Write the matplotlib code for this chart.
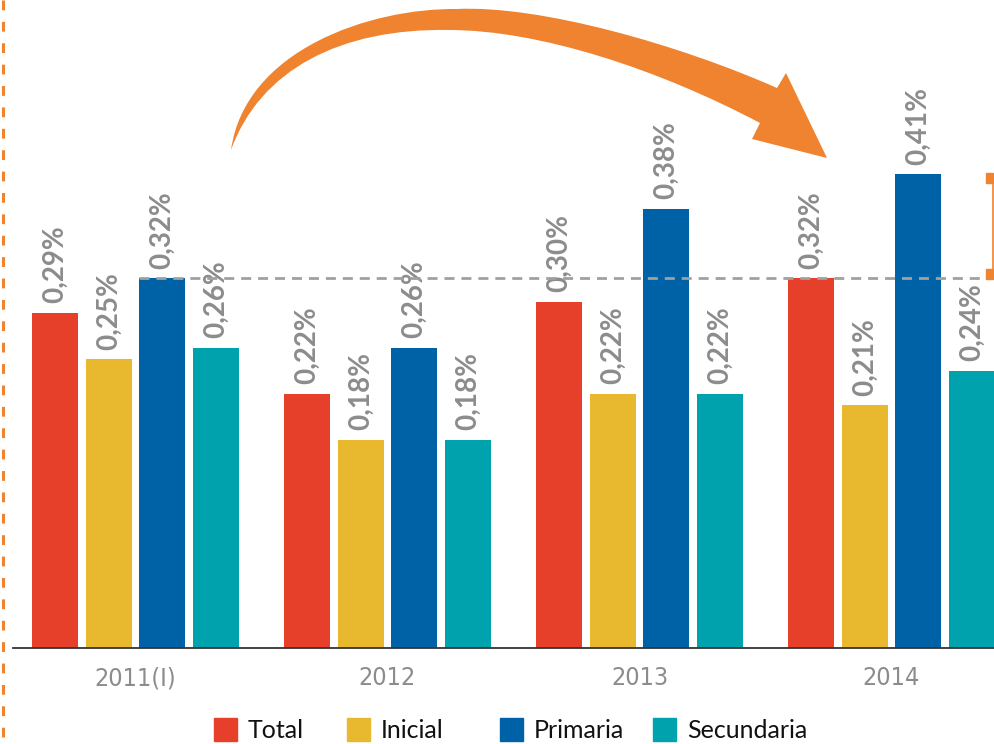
import numpy as np
import matplotlib
matplotlib.use('Agg')
import matplotlib.pyplot as plt
from matplotlib.path import Path
from matplotlib.patches import PathPatch, Rectangle

years = ['2011(I)', '2012', '2013', '2014']
series = ['Total', 'Inicial', 'Primaria', 'Secundaria']
total = [0.29, 0.22, 0.30, 0.32]
inicial = [0.25, 0.18, 0.22, 0.21]
primaria = [0.32, 0.26, 0.38, 0.41]
secundaria = [0.26, 0.18, 0.22, 0.24]
colors = ['#E63F2A', '#E8B92F', '#0062A6', '#00A2AE']

orange = '#F0832F'
gray = '#8C8C8C'

W, H = 994, 744
fig = plt.figure(figsize=(W / 100, H / 100), dpi=100)
ax = fig.add_axes([13 / W, 96 / H, 981 / W, 648 / H])

x = np.arange(len(years))
step = 0.2123
width = 0.1825
for i, (name, vals) in enumerate(zip(series, [total, inicial, primaria, secundaria])):
    pos = x + (i - 1.5) * step
    ax.bar(pos, vals, width, color=colors[i], label=name, zorder=2, clip_on=False)
    for px, v in zip(pos, vals):
        ax.annotate(f'{v:.2f}%'.replace('.', ','), (px, v), xytext=(0, 7),
                    textcoords='offset points', rotation=90, ha='center', va='bottom',
                    fontsize=20, fontweight='bold', family=['Lato', 'DejaVu Sans'],
                    color=gray, zorder=2)

# reference line at 2011 Primaria level
x0 = 0 + 0.5 * step - width / 2
ax.hlines(primaria[0], x0, 3.45, colors='#A0A0A0', linewidth=2.0,
          linestyles=(0, (3.6, 2.5)), zorder=3, clip_on=False)

ax.set_xlim(-0.486, 3.407)
ax.set_ylim(0, 648 / 1155)
ax.set_xticks(x)
ax.set_xticklabels(years, fontsize=18, color=gray, fontstretch='condensed',
                   family=['DejaVu Sans'])
ax.tick_params(axis='x', length=0, pad=13)
ax.set_yticks([])
for s in ['top', 'left', 'right']:
    ax.spines[s].set_visible(False)
ax.spines['bottom'].set_color('#333333')
ax.spines['bottom'].set_linewidth(1.3)
ax.patch.set_alpha(0)

# overlay in pixel coordinates for decorations
ov = fig.add_axes([0, 0, 1, 1])
ov.set_xlim(0, W)
ov.set_ylim(H, 0)
ov.axis('off')
ov.patch.set_alpha(0)

ov.plot([3, 3], [0, H], color=orange, linewidth=2.2, linestyle=(0, (3.2, 3.8)))

verts = [(231, 150), (245, 50), (370, 8), (457, 9),
         (540, 5), (680, 45), (777, 88),
         (786, 73), (827, 158), (752, 139), (760, 123),
         (660, 70), (540, 30), (449, 30),
         (340, 28), (260, 70), (231, 150), (231, 150)]
codes = [Path.MOVETO] + [Path.CURVE4] * 6 + [Path.LINETO] * 4 + [Path.CURVE4] * 6 + [Path.CLOSEPOLY]
ov.add_patch(PathPatch(Path(verts, codes), facecolor=orange, edgecolor='none'))

# bracket on the right
ov.plot([992.5, 992.5], [174, 278], color=orange, linewidth=1.2)
ov.add_patch(Rectangle((986, 173), 7, 10, color=orange))
ov.add_patch(Rectangle((986, 269), 7, 10, color=orange))

# legend
leg_x = [214, 347, 500, 653]
for lx, name, c in zip(leg_x, series, colors):
    ov.add_patch(Rectangle((lx, 718), 23, 23, color=c))
    ov.text(lx + 34, 730, name, fontsize=18, va='center', ha='left',
            family=['Lato', 'DejaVu Sans'], color='#111111')

fig.savefig('out.png', dpi=100)
